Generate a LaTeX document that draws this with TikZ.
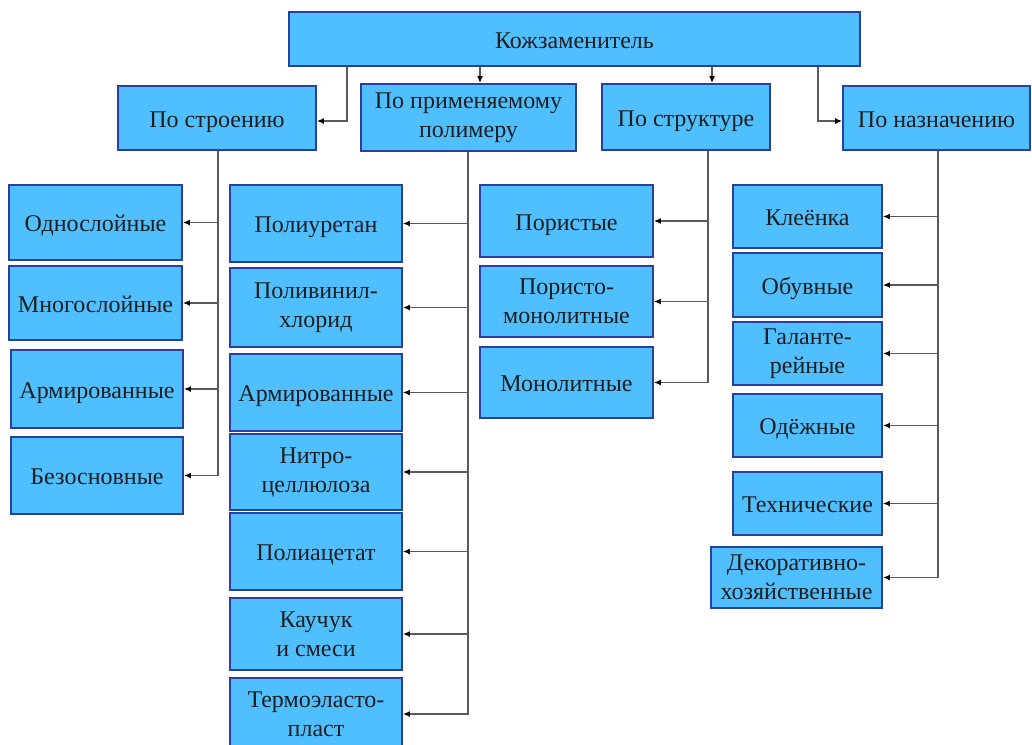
\documentclass[tikz,border=0pt]{standalone}
\usepackage{fontspec}
\setmainfont{Liberation Serif}
\usetikzlibrary{arrows.meta}
\definecolor{boxfill}{HTML}{50BFFF}
\definecolor{boxborder}{HTML}{2B3F9E}
\definecolor{linec}{HTML}{5A5A5A}
\definecolor{textc}{HTML}{1E1E1E}
\begin{document}
\begin{tikzpicture}[x=1pt,y=-1pt,
  box/.style={draw=boxborder, fill=boxfill, line width=1.8pt, inner sep=0pt,
    align=center, text=textc, font=\fontsize{24}{29}\selectfont},
  one/.style={box, text height=22pt, text depth=4pt},
  ln/.style={draw=linec, line width=1.8pt},
  arr/.style={ln, -{Latex[length=7pt,width=6pt,color=black]}}]
\useasboundingbox (0,0) rectangle (1032,744);
% top
\node[one, minimum width=571pt, minimum height=54pt] (top) at (574.5,39) {Кожзаменитель};
% level 2
\node[one, minimum width=198pt, minimum height=64pt] (p1) at (217,118) {По строению};
\node[box, minimum width=215pt, minimum height=67pt] (p2) at (468.5,117.5) {По применяемому\\полимеру};
\node[one, minimum width=168pt, minimum height=66pt] (p3) at (686,117) {По структуре};
\node[one, minimum width=187pt, minimum height=64pt] (p4) at (936.5,118) {По назначению};
% column a
\node[one, minimum width=173pt, minimum height=75pt] (a1) at (95.5,222.5) {Однослойные};
\node[one, minimum width=173pt, minimum height=74pt] (a2) at (95.5,303) {Многослойные};
\node[one, minimum width=172pt, minimum height=78pt] (a3) at (97,389) {Армированные};
\node[one, minimum width=172pt, minimum height=77pt] (a4) at (97,475.5) {Безосновные};
% column b
\node[one, minimum width=172pt, minimum height=77pt] (b1) at (316,223.5) {Полиуретан};
\node[box, minimum width=172pt, minimum height=79pt] (b2) at (316,307.5) {Поливинил-\\хлорид};
\node[one, minimum width=172pt, minimum height=77pt] (b3) at (316,392.5) {Армированные};
\node[box, minimum width=172pt, minimum height=76pt] (b4) at (316,472) {Нитро-\\целлюлоза};
\node[one, minimum width=172pt, minimum height=77pt] (b5) at (316,551.5) {Полиацетат};
\node[box, minimum width=172pt, minimum height=72pt] (b6) at (316,634) {Каучук\\и смеси};
\node[box, minimum width=172pt, minimum height=72pt] (b7) at (316,714) {Термоэласто-\\пласт};
% column c
\node[one, minimum width=173pt, minimum height=72pt] (c1) at (566.5,221) {Пористые};
\node[box, minimum width=173pt, minimum height=71pt] (c2) at (566.5,301.5) {Пористо-\\монолитные};
\node[one, minimum width=173pt, minimum height=71pt] (c3) at (566.5,382.5) {Монолитные};
% column d
\node[one, minimum width=149pt, minimum height=63pt] (d1) at (807.5,216.5) {Клеёнка};
\node[one, minimum width=149pt, minimum height=64pt] (d2) at (807.5,285) {Обувные};
\node[box, minimum width=149pt, minimum height=63pt] (d3) at (807.5,353.5) {Галанте-\\рейные};
\node[one, minimum width=149pt, minimum height=63pt] (d4) at (807.5,425.5) {Одёжные};
\node[one, minimum width=149pt, minimum height=63pt] (d5) at (807.5,503.5) {Технические};
\node[box, minimum width=171pt, minimum height=61pt] (d6) at (796.5,577.5) {Декоративно-\\хозяйственные};
% helper coordinates
\coordinate (j1) at (347,0);
\coordinate (j2) at (480,0);
\coordinate (j3) at (712,0);
\coordinate (j4) at (818,0);
\coordinate (s1) at (218,0);
\coordinate (s2) at (468,0);
\coordinate (s3) at (708,0);
\coordinate (s4) at (938,0);
% top connectors
\draw[arr] (top.south -| j1) |- ([yshift=-3pt]p1.east);
\draw[arr] (top.south -| j2) -- (p2.north -| j2);
\draw[arr] (top.south -| j3) -- (p3.north -| j3);
\draw[arr] (top.south -| j4) |- ([yshift=-3pt]p4.west);
% trunks
\draw[arr] (p1.south -| s1) |- (a4.east);
\foreach \n in {a1,a2,a3} \draw[arr] (\n.east -| s1) -- (\n.east);
\draw[arr] (p2.south -| s2) |- (b7.east);
\foreach \n in {b1,b2,b3,b4,b5,b6} \draw[arr] (\n.east -| s2) -- (\n.east);
\draw[arr] (p3.south -| s3) |- (c3.east);
\foreach \n in {c1,c2} \draw[arr] (\n.east -| s3) -- (\n.east);
\draw[arr] (p4.south -| s4) |- (d6.east);
\foreach \n in {d1,d2,d3,d4,d5} \draw[arr] (\n.east -| s4) -- (\n.east);
\end{tikzpicture}
\end{document}
